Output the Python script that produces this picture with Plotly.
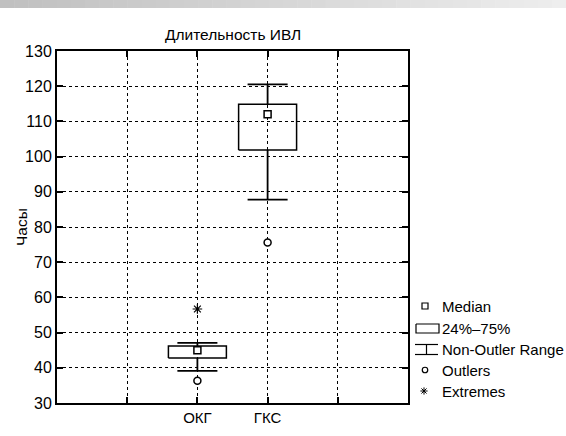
import plotly.graph_objects as go

W, H = 566, 436

# ---------------- data ----------------
title_text = 'Длительность ИВЛ'
y_title = 'Часы'
categories = ['ОКГ', 'ГКС']
median = [45.0, 112.0]
q1 = [42.8, 101.9]
q3 = [46.2, 114.9]
whisk_lo = [39.1, 87.8]
whisk_hi = [47.1, 120.5]
outlier_cat = ['ОКГ', 'ГКС']
outlier_val = [36.3, 75.6]
extreme_cat = ['ОКГ']
extreme_val = [56.7]
y_tickvals = [30, 40, 50, 60, 70, 80, 90, 100, 110, 120, 130]
x_tickvals = [1, 2, 3, 4]
x_ticktext = ['', 'ОКГ', 'ГКС', '']
legend_labels = ['Median', '24%–75%', 'Non-Outler Range', 'Outlers', 'Extremes']

# ---------------- style ----------------
FONT = 'Liberation Sans, Arial, sans-serif'
BOX_HALF = 0.413
CAP_HALF = 0.285
# plot area in pixels
PL, PR, PT, PB = 57, 408, 51, 403

pos = {t: v for v, t in zip(x_tickvals, x_ticktext) if t}

fig = go.Figure()

# boxes
bx, by = [], []
for c, a, b in zip(categories, q1, q3):
    x = pos[c]
    bx += [x - BOX_HALF, x + BOX_HALF, x + BOX_HALF, x - BOX_HALF, x - BOX_HALF, None]
    by += [a, a, b, b, a, None]
fig.add_trace(go.Scatter(x=bx, y=by, mode='lines', line=dict(color='black', width=1.5),
                         showlegend=False, hoverinfo='skip'))

# whiskers
wx, wy = [], []
for c, a, b, lo, hi in zip(categories, q1, q3, whisk_lo, whisk_hi):
    x = pos[c]
    wx += [x, x, None, x, x, None, x - CAP_HALF, x + CAP_HALF, None, x - CAP_HALF, x + CAP_HALF, None]
    wy += [b, hi, None, a, lo, None, hi, hi, None, lo, lo, None]
fig.add_trace(go.Scatter(x=wx, y=wy, mode='lines', line=dict(color='black', width=1.8),
                         showlegend=False, hoverinfo='skip'))

MED_M = dict(symbol='square', size=7, color='white', line=dict(color='black', width=1.5))
OUT_M = dict(symbol='circle', size=7, color='white', line=dict(color='black', width=1.5))
EXT_M = dict(symbol='asterisk-open', size=8, color='black', line=dict(color='black', width=1.2))

fig.add_trace(go.Scatter(x=[pos[c] for c in categories], y=median, mode='markers',
                         marker=MED_M, showlegend=False))
fig.add_trace(go.Scatter(x=[pos[c] for c in outlier_cat], y=outlier_val, mode='markers',
                         marker=OUT_M, showlegend=False))
fig.add_trace(go.Scatter(x=[pos[c] for c in extreme_cat], y=extreme_val, mode='markers',
                         marker=EXT_M, showlegend=False))

# ---------------- legend drawn on a pixel overlay axis ----------------
row_y = [306, 328, 349.5, 370, 391]
sym_x = 425
text_x = 440
fig.add_trace(go.Scatter(x=[sym_x], y=[row_y[0]], mode='markers', xaxis='x2', yaxis='y2',
                         marker=dict(MED_M, size=6, line=dict(color='black', width=1.2)),
                         showlegend=False, hoverinfo='skip'))
fig.add_trace(go.Scatter(x=[416, 439, 439, 416, 416],
                         y=[row_y[1] - 4, row_y[1] - 4, row_y[1] + 5, row_y[1] + 5, row_y[1] - 4],
                         mode='lines', xaxis='x2', yaxis='y2', line=dict(color='black', width=1.2),
                         showlegend=False, hoverinfo='skip'))
fig.add_trace(go.Scatter(x=[415, 438, None, 426.5, 426.5, None, 415, 438],
                         y=[row_y[2] - 5, row_y[2] - 5, None, row_y[2] - 5, row_y[2] + 5, None,
                            row_y[2] + 5, row_y[2] + 5],
                         mode='lines', xaxis='x2', yaxis='y2', line=dict(color='black', width=1.2),
                         showlegend=False, hoverinfo='skip'))
fig.add_trace(go.Scatter(x=[sym_x], y=[row_y[3]], mode='markers', xaxis='x2', yaxis='y2',
                         marker=dict(OUT_M, size=5.5, line=dict(color='black', width=1.2)),
                         showlegend=False, hoverinfo='skip'))
fig.add_trace(go.Scatter(x=[sym_x - 1], y=[row_y[4]], mode='markers', xaxis='x2', yaxis='y2',
                         marker=dict(EXT_M, size=6, line=dict(color='black', width=1)),
                         showlegend=False, hoverinfo='skip'))

annotations = []
for lbl, yy in zip(legend_labels, row_y):
    annotations.append(dict(x=text_x, y=yy, xref='x2', yref='y2', text=lbl, showarrow=False,
                            xanchor='left', yanchor='middle',
                            font=dict(family=FONT, size=15, color='black')))
annotations.append(dict(x=21, y=(PT + PB) / 2, xref='x2', yref='y2', text=y_title, showarrow=False,
                        textangle=-90, xanchor='center', yanchor='middle',
                        font=dict(family=FONT, size=15.5, color='black')))
annotations.append(dict(x=(PL + PR) / 2, y=34, xref='x2', yref='y2', text=title_text, showarrow=False,
                        xanchor='center', yanchor='middle',
                        font=dict(family=FONT, size=15.5, color='black')))

# top gradient bar
shapes = []
N = 40
for i in range(N):
    t = i / (N - 1)
    g = int(192 + (238 - 192) * t)
    shapes.append(dict(type='rect', xref='x2', yref='y2', x0=W * i / N, x1=W * (i + 1) / N + 0.5,
                       y0=0, y1=8, fillcolor=f'rgb({g},{g},{g})', line=dict(width=0), layer='below'))

axis_common = dict(showline=True, linecolor='black', linewidth=2, mirror='ticks',
                   ticks='inside', ticklen=6, tickwidth=1.5, tickcolor='black',
                   showgrid=True, gridcolor='black', gridwidth=1, griddash='dot',
                   zeroline=False, automargin=False,
                   tickfont=dict(family=FONT, size=15, color='black'))

fig.update_layout(
    width=W, height=H, margin=dict(l=0, r=0, t=0, b=0, autoexpand=False),
    paper_bgcolor='white', plot_bgcolor='rgba(0,0,0,0)',
    showlegend=False,
    xaxis=dict(axis_common, domain=[PL / W, PR / W], range=[0, 5],
               tickvals=x_tickvals, ticktext=x_ticktext, anchor='y'),
    yaxis=dict(axis_common, domain=[1 - PB / H, 1 - PT / H], range=[30, 130],
               tickvals=y_tickvals, anchor='x', tickfont=dict(family=FONT, size=16, color='black')),
    xaxis2=dict(domain=[0, 1], range=[0, W], visible=False, anchor='y2', fixedrange=True,
                automargin=False),
    yaxis2=dict(domain=[0, 1], range=[H, 0], visible=False, anchor='x2', fixedrange=True,
                automargin=False),
    annotations=annotations, shapes=shapes,
)

fig.write_html('out.html', config={'displayModeBar': False},
               post_script="document.body.style.margin='0';document.body.style.overflow='hidden';")
